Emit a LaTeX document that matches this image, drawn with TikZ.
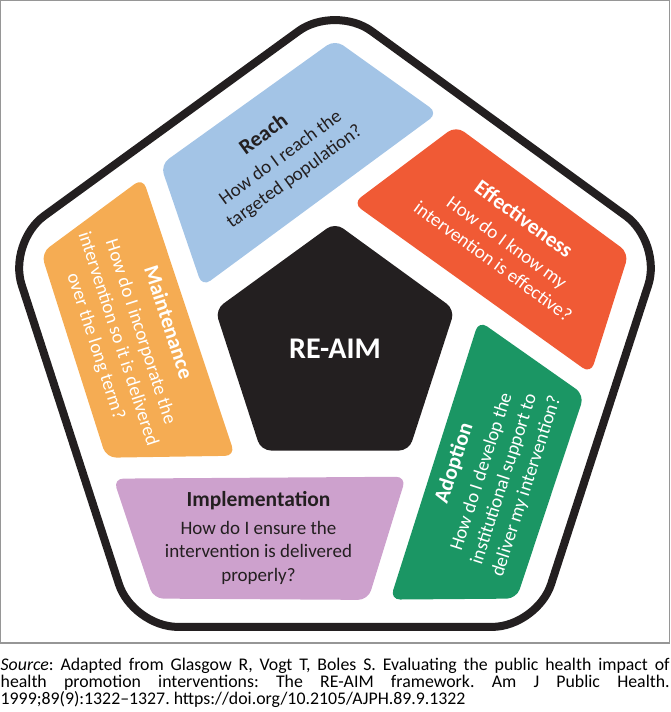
\documentclass[tikz,border=0pt]{standalone}
\usepackage{fontspec}
\setmainfont{Carlito}
\definecolor{reachc}{HTML}{A3C4E6}
\definecolor{effc}{HTML}{F05A35}
\definecolor{adoptc}{HTML}{1B9664}
\definecolor{implc}{HTML}{CDA1CD}
\definecolor{maintc}{HTML}{F5AC53}
\definecolor{inkc}{HTML}{231F20}
\definecolor{framec}{HTML}{969696}
\newcommand\segtitle{\fontsize{21.5}{26}\selectfont\bfseries}
\newcommand\segpoly[2]{\fill[#2, segshape] ({90-#1}:309) -- ({66.4-#1}:257) -- ({155-#1}:146.5) -- ({133.5-#1}:253.5) -- cycle;}
\begin{document}
\lineskiplimit=-30pt
\tolerance=10000
\frenchspacing
\begin{tikzpicture}[x=1pt,y=1pt,
  segshape/.style={rounded corners=10pt},
  lbl/.style={align=center, inner sep=0pt, font=\fontsize{19}{23.5}\selectfont},
  captext/.style={anchor=north west, inner sep=0pt, text width=669pt, align=justify,
    font=\fontsize{17.8}{14.8}\selectfont}]
\useasboundingbox (0,0) rectangle (670,712);
\draw[framec, line width=1.4pt] (0.7,69) rectangle (669.3,711.3);
\begin{scope}[shift={(335,363.4)}]
  \draw[inkc, line width=8pt, rounded corners=45pt]
    (90:344) -- (18:344) -- (-54:344) -- (-126:344) -- (162:344) -- cycle;
  \fill[inkc, rounded corners=10pt]
    (90:126) -- (18:126) -- (-54:126) -- (-126:126) -- (162:126) -- cycle;
  \segpoly{0}{reachc}
  \segpoly{72}{effc}
  \segpoly{144}{adoptc}
  \segpoly{216}{implc}
  \segpoly{288}{maintc}
  \node[lbl, text=inkc, rotate=36] (reach) at (-56,193)
    {{\segtitle Reach}\\[4.5pt]How do I reach the\\targeted population?};
  \node[lbl, text=white, rotate=-36] (eff) at (174,109)
    {{\segtitle Effectiveness}\\[4.5pt]How do I know my\\intervention is effective?};
  \node[lbl, text=white, rotate=72] (adopt) at (155,-126)
    {{\segtitle Adoption}\\[4.5pt]How do I develop the\\institutional support to\\deliver my intervention?};
  \node[lbl, text=inkc] (impl) at (-76.5,-189)
    {{\segtitle Implementation}\\[4.5pt]How do I ensure the\\intervention is delivered\\properly?};
  \node[lbl, text=white, rotate=-72] (maint) at (-203,14)
    {{\segtitle Maintenance}\\[4.5pt]How do I incorporate the\\intervention so it is delivered\\over the long term?};
  \node[text=white, inner sep=0pt, font=\fontsize{30}{36}\selectfont\bfseries] (reaim) at (0,0) {RE-AIM};
\end{scope}
\node[captext] (caption) at (0.5,53.6)
  {\textit{Source}: Adapted from Glasgow R, Vogt T, Boles S. Evaluating the public health impact of\linebreak
   health promotion interventions: The RE-AIM framework. Am J Public Health.\linebreak
   1999;89(9):1322–1327. https://doi.org/10.2105/AJPH.89.9.1322};
\end{tikzpicture}
\end{document}
